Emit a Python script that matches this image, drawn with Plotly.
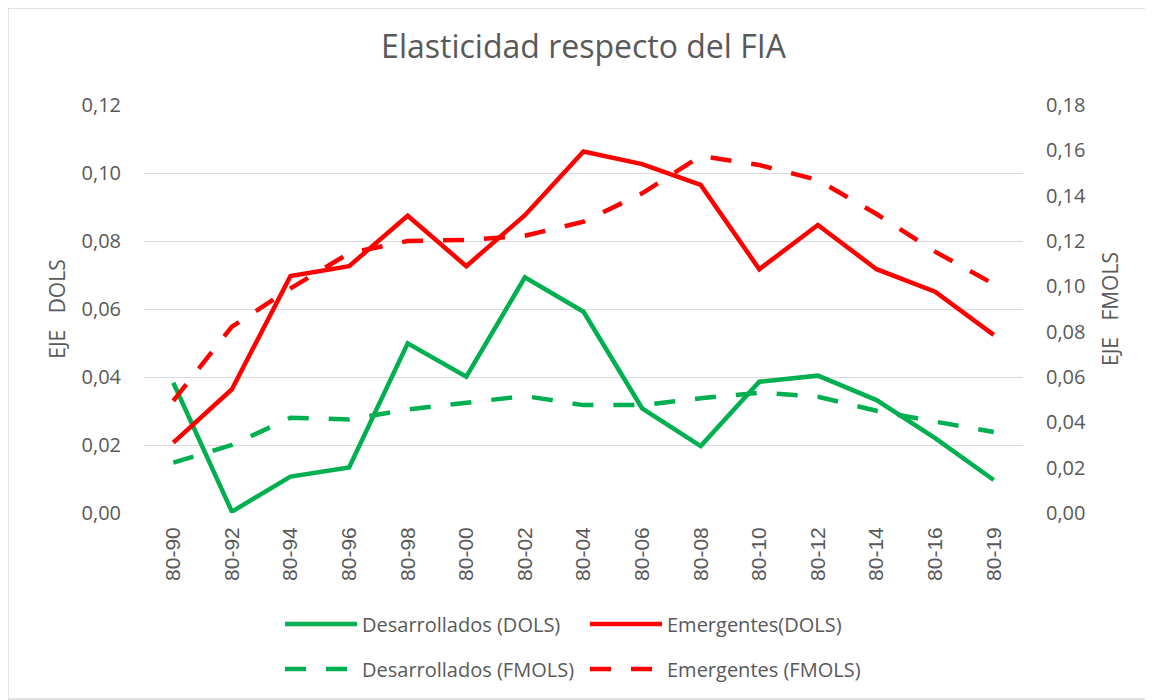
import plotly.graph_objects as go

categories = ["80-90", "80-92", "80-94", "80-96", "80-98", "80-00", "80-02", "80-04",
              "80-06", "80-08", "80-10", "80-12", "80-14", "80-16", "80-19"]

des_dols = [0.0383, 0.0004, 0.0107, 0.0134, 0.0499, 0.0401, 0.0693, 0.0592,
            0.0308, 0.0197, 0.0386, 0.0404, 0.0332, 0.0220, 0.0097]
eme_dols = [0.0207, 0.0364, 0.0697, 0.0726, 0.0874, 0.0726, 0.0876, 0.1063,
            0.1026, 0.0965, 0.0717, 0.0847, 0.0717, 0.0651, 0.0524]
des_fmols = [0.0222, 0.0300, 0.0420, 0.0413, 0.0457, 0.0488, 0.0516, 0.0476,
             0.0476, 0.0506, 0.0531, 0.0513, 0.0451, 0.0403, 0.0357]
eme_fmols = [0.0495, 0.0822, 0.0991, 0.1146, 0.1200, 0.1205, 0.1223, 0.1285,
             0.1410, 0.1575, 0.1535, 0.1469, 0.1319, 0.1153, 0.1010]

GREEN = "#00B050"
RED = "#FF0000"
TXT = "#595959"
FONT = "Open Sans"
XFONT = "Liberation Sans"
DASH = "21px,20px"
LW = 4.5

fig = go.Figure()
fig.add_trace(go.Scatter(x=categories, y=des_dols, name="Desarrollados (DOLS)", mode="lines",
                         line=dict(color=GREEN, width=LW), legend="legend"))
fig.add_trace(go.Scatter(x=categories, y=eme_dols, name="Emergentes(DOLS)", mode="lines",
                         line=dict(color=RED, width=LW), legend="legend"))
fig.add_trace(go.Scatter(x=categories, y=des_fmols, name="Desarrollados (FMOLS)", mode="lines",
                         line=dict(color=GREEN, width=LW, dash=DASH), yaxis="y2", legend="legend2"))
fig.add_trace(go.Scatter(x=categories, y=eme_fmols, name="Emergentes (FMOLS)", mode="lines",
                         line=dict(color=RED, width=LW, dash=DASH), yaxis="y2", legend="legend2"))

# page body adds an 8px offset; layout below is expressed in page pixels minus that offset
OFF = 8
W, H = 1153 - OFF, 700 - OFF
L = 144 - OFF
T = 105 - OFF
R = W - (1023 - OFF)
B = H - (513 - OFF)
pw, ph = W - L - R, H - T - B


def px_y(py):
    return -((py - OFF) - T - ph) / ph


legend_common = dict(orientation="h", xanchor="left", x=((280 - OFF) - L) / pw, yanchor="middle",
                     font=dict(family=FONT, size=20, color=TXT), entrywidth=218,
                     entrywidthmode="pixels", itemwidth=72, bgcolor="rgba(0,0,0,0)")

fig.update_layout(
    width=W, height=H,
    margin=dict(l=L, r=R, t=T, b=B, autoexpand=False),
    paper_bgcolor="white", plot_bgcolor="white",
    separators=",.",
    title=dict(text="Elasticidad respecto del FIA", x=0.5, xref="paper", xanchor="center",
               y=1 - (47 - OFF) / H, yanchor="middle",
               font=dict(family=FONT, size=32, color=TXT)),
    font=dict(family=FONT, color=TXT),
    xaxis=dict(type="category", tickangle=-90, showgrid=False, showline=False, automargin=False,
               ticks="", tickfont=dict(family=XFONT, size=21, color=TXT),
               ticklabelstandoff=9, range=[-0.5, 14.5]),
    yaxis=dict(range=[0, 0.12], dtick=0.02, tickformat=".2f", showgrid=True, automargin=False,
               gridcolor="#D9D9D9", gridwidth=1.3, zeroline=False, showline=False,
               tickfont=dict(family=FONT, size=20, color=TXT), ticklabelstandoff=22,
               title=dict(text="EJE\u00a0\u00a0\u00a0DOLS", standoff=10,
                          font=dict(family=FONT, size=21, color=TXT))),
    yaxis2=dict(range=[0, 0.18], dtick=0.02, tickformat=".2f", overlaying="y", side="right",
                showgrid=False, zeroline=False, showline=False, automargin=False,
                tickfont=dict(family=FONT, size=20, color=TXT), ticklabelstandoff=22,
                title=dict(text="EJE\u00a0\u00a0\u00a0FMOLS", standoff=18,
                           font=dict(family=FONT, size=21, color=TXT))),
    legend=dict(y=px_y(624), **legend_common),
    legend2=dict(y=px_y(669), **legend_common),
    shapes=[dict(type="rect", xref="paper", yref="paper",
                 x0=(0 - L) / pw, x1=(W - 1 - L) / pw,
                 y0=-(H - 1 - T - ph) / ph, y1=1 + T / ph,
                 line=dict(color="#D9D9D9", width=1.5), fillcolor="rgba(0,0,0,0)", layer="below")],
)

fig.write_html("out.html")
